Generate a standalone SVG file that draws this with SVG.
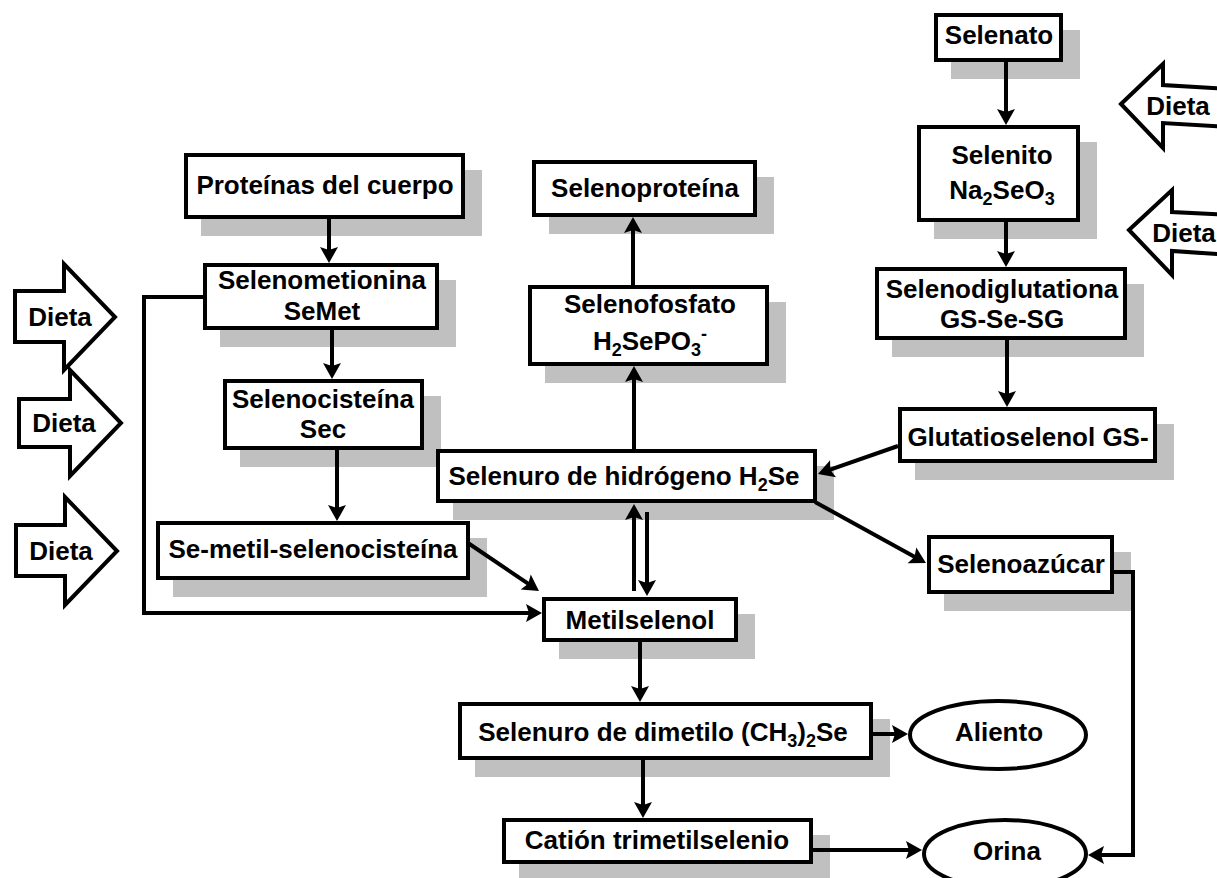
<svg xmlns="http://www.w3.org/2000/svg" width="1217" height="878" viewBox="0 0 1217 878">
<defs>
<style>
.sh{fill:#c0c0c0;stroke:none}
.bx{fill:#fff;stroke:#000;stroke-width:4}
.t{font-family:"Liberation Sans",Arial,sans-serif;font-weight:bold;font-size:26px;fill:#000;text-anchor:middle}
.c{fill:none;stroke:#000;stroke-width:4}
.sub{font-size:18px}
</style>
<marker id="ah" markerUnits="userSpaceOnUse" markerWidth="20" markerHeight="20" viewBox="0 -10 18 20" refX="6" refY="0" orient="auto">
<path d="M0,-9 L16,0 L0,9 L3,0 z" fill="#000"/>
</marker>
</defs>
<rect width="1217" height="878" fill="#fff"/>

<g id="dieta1">
<polygon class="bx" points="15,291 64,291 64,264 115,317 64,370 64,342 15,342"/>
<text class="t" x="60" y="326">Dieta</text>
</g>
<g id="dieta2">
<polygon class="bx" points="19,399 70,399 70,370 121,423 70,476 70,447 19,447"/>
<text class="t" x="64" y="432">Dieta</text>
</g>
<g id="dieta3">
<polygon class="bx" points="16,525 65,525 65,497 117,551 65,605 65,576 16,576"/>
<text class="t" x="61" y="560">Dieta</text>
</g>
<g id="dieta4">
<polygon class="bx" points="1121,104 1163,64 1163,85 1230,89 1230,127 1163,123 1163,148"/>
<text class="t" x="1178" y="115">Dieta</text>
</g>
<g id="dieta5">
<polygon class="bx" points="1129,230 1172,190 1172,212 1230,215 1230,255 1172,251 1172,275"/>
<text class="t" x="1184" y="242">Dieta</text>
</g>

<g id="proteinas">
<rect class="sh" x="201" y="170" width="281" height="66"/>
<rect class="bx" x="186" y="155" width="277" height="62"/>
<text class="t" x="325" y="194">Proteínas del cuerpo</text>
</g>
<g id="selenometionina">
<rect class="sh" x="220" y="280" width="236" height="67"/>
<rect class="bx" x="205" y="265" width="232" height="63"/>
<text class="t" x="322" y="289">Selenometionina</text>
<text class="t" x="322" y="320">SeMet</text>
</g>
<g id="selenocisteina">
<rect class="sh" x="240" y="396" width="201" height="71"/>
<rect class="bx" x="225" y="381" width="197" height="67"/>
<text class="t" x="323" y="408">Selenocisteína</text>
<text class="t" x="323" y="438">Sec</text>
</g>
<g id="semetil">
<rect class="sh" x="173" y="538" width="314" height="59"/>
<rect class="bx" x="158" y="523" width="310" height="55"/>
<text class="t" x="313" y="558">Se-metil-selenocisteína</text>
</g>
<g id="selenoproteina">
<rect class="sh" x="549" y="177" width="225" height="57"/>
<rect class="bx" x="534" y="162" width="221" height="53"/>
<text class="t" x="645" y="197">Selenoproteína</text>
</g>
<g id="selenofosfato">
<rect class="sh" x="545" y="302" width="241" height="81"/>
<rect class="bx" x="530" y="287" width="237" height="77"/>
<text class="t" x="650" y="313">Selenofosfato</text>
<text class="t" x="650" y="350">H<tspan class="sub" dy="6">2</tspan><tspan dy="-6">SePO</tspan><tspan class="sub" dy="6">3</tspan><tspan class="sub" dy="-16">-</tspan></text>
</g>
<g id="h2se">
<rect class="sh" x="453" y="466" width="381" height="54"/>
<rect class="bx" x="438" y="451" width="377" height="50"/>
<text class="t" x="624" y="485">Selenuro de hidrógeno H<tspan class="sub" dy="6">2</tspan><tspan dy="-6">Se</tspan></text>
</g>
<g id="metilselenol">
<rect class="sh" x="559" y="614" width="196" height="45"/>
<rect class="bx" x="544" y="599" width="192" height="41"/>
<text class="t" x="640" y="629">Metilselenol</text>
</g>
<g id="dimetilo">
<rect class="sh" x="475" y="719" width="415" height="58"/>
<rect class="bx" x="460" y="704" width="411" height="54"/>
<text class="t" x="663" y="741">Selenuro de dimetilo (CH<tspan class="sub" dy="6">3</tspan><tspan dy="-6">)</tspan><tspan class="sub" dy="6">2</tspan><tspan dy="-6">Se</tspan></text>
</g>
<g id="cation">
<rect class="sh" x="519" y="835" width="311" height="46"/>
<rect class="bx" x="504" y="820" width="307" height="42"/>
<text class="t" x="657" y="849">Catión trimetilselenio</text>
</g>
<g id="selenato">
<rect class="sh" x="951" y="30" width="129" height="49"/>
<rect class="bx" x="936" y="15" width="125" height="45"/>
<text class="t" x="999" y="44">Selenato</text>
</g>
<g id="selenito">
<rect class="sh" x="934" y="142" width="163" height="97"/>
<rect class="bx" x="919" y="127" width="159" height="93"/>
<text class="t" x="1002" y="164">Selenito</text>
<text class="t" x="1002" y="199">Na<tspan class="sub" dy="6">2</tspan><tspan dy="-6">SeO</tspan><tspan class="sub" dy="6">3</tspan></text>
</g>
<g id="selenodiglutationa">
<rect class="sh" x="892" y="284" width="252" height="73"/>
<rect class="bx" x="877" y="269" width="248" height="69"/>
<text class="t" x="1002" y="298">Selenodiglutationa</text>
<text class="t" x="1002" y="328">GS-Se-SG</text>
</g>
<g id="glutatioselenol">
<rect class="sh" x="915" y="424" width="259" height="56"/>
<rect class="bx" x="900" y="409" width="255" height="52"/>
<text class="t" x="1028" y="446">Glutatioselenol GS-</text>
</g>
<g id="selenoazucar">
<rect class="sh" x="944" y="552" width="187" height="59"/>
<rect class="bx" x="929" y="537" width="183" height="55"/>
<text class="t" x="1021" y="573">Selenoazúcar</text>
</g>
<g id="aliento">
<ellipse class="bx" cx="998" cy="735" rx="88" ry="34"/>
<text class="t" x="999" y="741">Aliento</text>
</g>
<g id="orina">
<ellipse class="bx" cx="1005" cy="854" rx="81" ry="34"/>
<text class="t" x="1007" y="860">Orina</text>
</g>

<g id="connectors">
<path class="c" marker-end="url(#ah)" d="M329,219 V253"/>
<path class="c" marker-end="url(#ah)" d="M332,330 V369"/>
<path class="c" marker-end="url(#ah)" d="M337,450 V511"/>
<path class="c" marker-end="url(#ah)" d="M468,543 L530.7,585.4"/>
<path class="c" marker-end="url(#ah)" d="M203,297 H144 V613 H532"/>
<path class="c" marker-end="url(#ah)" d="M634,449 V376"/>
<path class="c" marker-end="url(#ah)" d="M633,285 V227"/>
<path class="c" marker-end="url(#ah)" d="M634,591 V514"/>
<path class="c" marker-end="url(#ah)" d="M647,512 V586"/>
<path class="c" marker-end="url(#ah)" d="M898,446 L827.4,470.7"/>
<path class="c" marker-end="url(#ah)" d="M815,502 L917.2,558.2"/>
<path class="c" marker-end="url(#ah)" d="M1006,62 V115"/>
<path class="c" marker-end="url(#ah)" d="M1006,222 V257"/>
<path class="c" marker-end="url(#ah)" d="M1007,340 V397"/>
<path class="c" marker-end="url(#ah)" d="M640,642 V692"/>
<path class="c" marker-end="url(#ah)" d="M643,760 V808"/>
<path class="c" marker-end="url(#ah)" d="M873,734 H898"/>
<path class="c" marker-end="url(#ah)" d="M813,850 H912"/>
<path class="c" marker-end="url(#ah)" d="M1114,572 H1133 V855 H1098"/>
</g>
</svg>
